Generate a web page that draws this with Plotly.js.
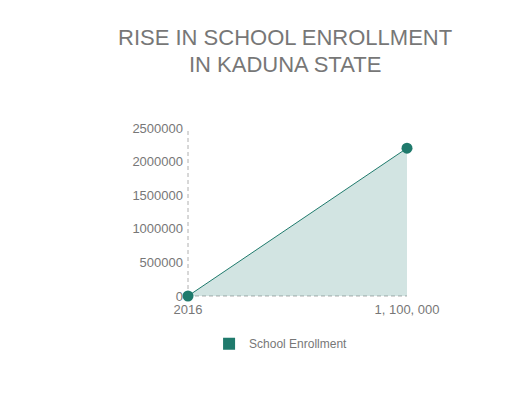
<!DOCTYPE html>
<html><head><meta charset="utf-8">
<script src="https://cdn.plot.ly/plotly-3.0.1.min.js"></script>
<style>html,body{margin:0;padding:0;background:#fff}#chart{width:505px;height:394px}</style>
</head><body><div id="chart"></div>
<script>
const categories = ["2016", "1, 100, 000"];
const enrollment = [0, 2200000];
const seriesName = "School Enrollment";
const titleLines = ["RISE IN SCHOOL ENROLLMENT", "IN KADUNA STATE"];
const yTicks = [0, 500000, 1000000, 1500000, 2000000, 2500000];
const yTickLabels = ["0", "500000", "1000000", "1500000", "2000000", "2500000"];

const teal = "#1f7a6c";
const grey = "#777777";

Plotly.newPlot("chart", [{
  type: "scatter",
  mode: "lines+markers",
  x: categories,
  y: enrollment,
  name: seriesName,
  showlegend: false,
  fill: "tozeroy",
  fillcolor: "rgba(31,122,108,0.2)",
  line: {color: teal, width: 1},
  marker: {color: teal, size: 11},
  cliponaxis: false
}, {
  type: "bar",
  x: [categories[0]],
  y: [0],
  name: seriesName,
  marker: {color: teal, line: {width: 0}},
  showlegend: true,
  hoverinfo: "skip"
}], {
  width: 505, height: 394,
  margin: {l: 188, r: 98, t: 128, b: 98},
  paper_bgcolor: "#fff", plot_bgcolor: "#fff",
  font: {family: "Liberation Sans, Arial, sans-serif", color: grey, size: 13},
  annotations: [
    {text: titleLines[0], xref: "paper", yref: "paper", x: 0.443, xanchor: "center",
      y: (296 - 38) / 168, yanchor: "middle", showarrow: false, font: {size: 22, color: grey}},
    {text: titleLines[1], xref: "paper", yref: "paper", x: 0.443, xanchor: "center",
      y: (296 - 64) / 168, yanchor: "middle", showarrow: false, font: {size: 22, color: grey}}
  ],
  xaxis: {type: "category", range: [0, 1], showgrid: false, zeroline: false, showline: false,
    ticks: "", ticklabelstandoff: 4, tickfont: {size: 13, color: grey}, automargin: false},
  yaxis: {range: [0, 2500000], tickvals: yTicks, ticktext: yTickLabels, showgrid: false,
    zeroline: false, showline: false, ticks: "", ticklabelstandoff: 4, tickfont: {size: 13, color: grey}, automargin: false},
  shapes: [
    {type: "line", xref: "paper", yref: "paper", x0: 0, x1: 0, y0: 0, y1: 1, line: {color: "#b0b0b0", width: 1, dash: "4px,3px"}, layer: "below"},
    {type: "line", xref: "paper", yref: "paper", x0: 0, x1: 1, y0: 0, y1: 0, line: {color: "#b0b0b0", width: 1, dash: "4px,3px"}, layer: "below"}
  ],
  showlegend: true,
  legend: {orientation: "h", x: 0.425, xanchor: "center", y: -0.198, yanchor: "top", font: {size: 12, color: grey}}
}, {displayModeBar: false, staticPlot: true});
</script></body></html>
